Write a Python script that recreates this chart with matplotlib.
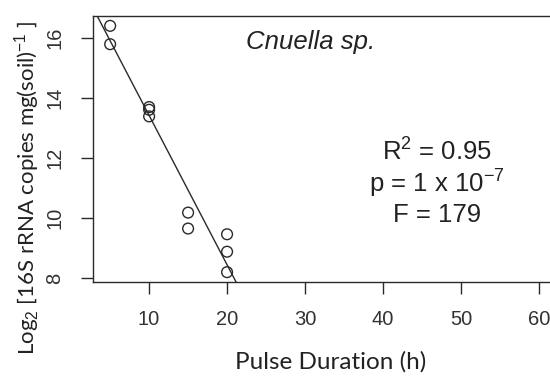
import numpy as np
import matplotlib
matplotlib.use("Agg")
import matplotlib.pyplot as plt

# pulse duration (h) and log2 copies
pulse_h = [5, 5, 10, 10, 10, 15, 15, 20, 20, 20]
log2_copies = [16.40, 15.79, 13.70, 13.61, 13.39, 10.19, 9.66, 9.47, 8.89, 8.21]
x_ticks = [10, 20, 30, 40, 50, 60]
y_ticks = [8, 10, 12, 14, 16]
species = "Cnuella sp."
stats_lines = [r"R$^2$ = 0.95", r"p = 1 x 10$^{-7}$", "F = 179"]

plt.rcParams['mathtext.fontset'] = 'custom'
plt.rcParams['mathtext.rm'] = 'Liberation Sans'
plt.rcParams['mathtext.it'] = 'Liberation Sans:italic'

ink = "#2a2a2a"
fig = plt.figure(figsize=(5.5, 3.76), dpi=100)
# right spine sits just past the image edge, like the source
ax = fig.add_axes([93 / 550, 1 - 282 / 376, (556 - 93) / 550, (282 - 16) / 376])

x = np.array(pulse_h, dtype=float)
y = np.array(log2_copies)
ax.scatter(x, y, s=60, facecolors="none", edgecolors=ink, linewidths=1.0, zorder=3)

# R-style axis ranges (4% padding); x range covers 5..60
x_lo, x_hi = 5, 60
pad = 0.04 * (x_hi - x_lo)
ax.set_xlim(x_lo - pad, x_hi + pad)
ypad = 0.04 * (y.max() - y.min())
ax.set_ylim(y.min() - ypad, y.max() + ypad)

slope, icpt = np.polyfit(x, y, 1)
xx = np.array(ax.get_xlim())
ax.plot(xx, icpt + slope * xx, color=ink, lw=1.0, zorder=2)

ax.set_xticks(x_ticks)
ax.set_yticks(y_ticks)
for lab in ax.get_yticklabels():
    lab.set_rotation(90)
    lab.set_va("center")
ax.tick_params(axis="both", direction="out", length=8.5, width=1.0, color=ink,
               labelsize=14.5, labelcolor="#333333")
ax.tick_params(axis="x", pad=12)
ax.tick_params(axis="y", pad=12)
for lab in ax.get_xticklabels() + ax.get_yticklabels():
    lab.set_family("Liberation Sans")
for sp in ax.spines.values():
    sp.set_color(ink)
    sp.set_linewidth(1.0)

ax.text((311 - 93) / 463, 1 - (42 - 16) / 266, species, transform=ax.transAxes,
        ha="center", va="center", fontsize=18.5, style="italic",
        family="Liberation Sans", color="#222222")

for i, line in enumerate(stats_lines):
    ax.text((437 - 93) / 463, 1 - (152 + 31.5 * i - 16) / 266, line,
            transform=ax.transAxes, ha="center", va="center", fontsize=18.5,
            family="Liberation Sans", color="#222222")

fig.text(331 / 550, 1 - 362 / 376, "Pulse Duration (h)", ha="center", va="center",
         fontsize=17.5, family="Lato", color="#222222")
fig.text(27 / 550, 1 - 188 / 376, r"Log$_2$ [16S rRNA copies mg(soil)$^{-1}$ ]",
         ha="center", va="center", rotation=90, fontsize=16, family="Lato",
         color="#222222")

fig.savefig("out.png", dpi=100)
